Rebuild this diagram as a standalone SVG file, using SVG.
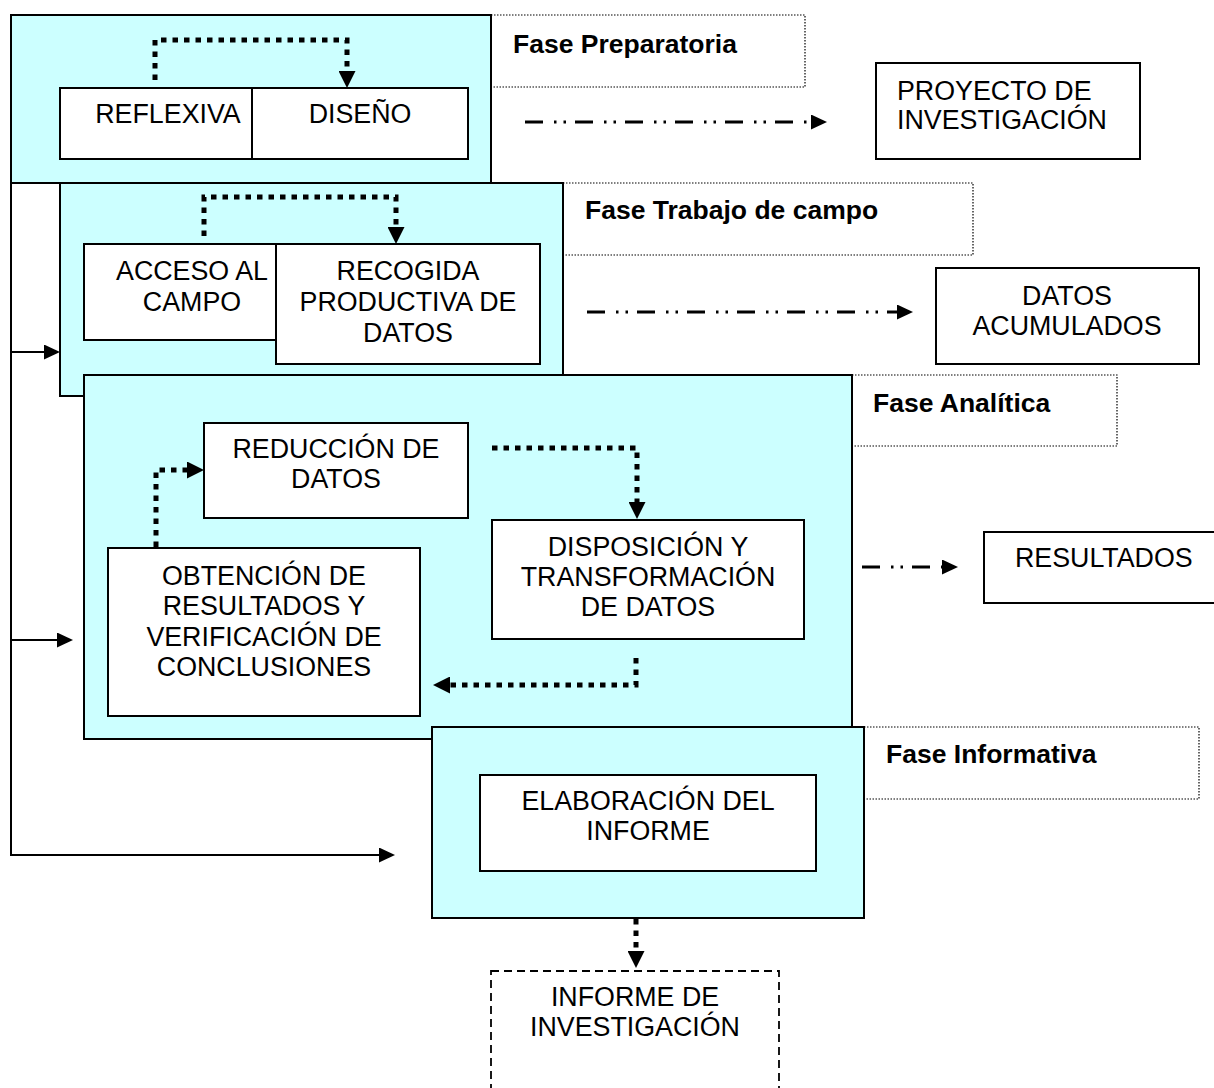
<svg xmlns="http://www.w3.org/2000/svg" width="1214" height="1088" viewBox="0 0 1214 1088">
<style>
.phase{fill:#CCFFFF;stroke:#000;stroke-width:2}
.box{fill:#fff;stroke:#000;stroke-width:2}
.lbl{fill:none;stroke:#000;stroke-width:1.2;stroke-dasharray:1.5 1.5}
.dashbox{fill:none;stroke:#000;stroke-width:1.8;stroke-dasharray:8 5}
.t{font-family:"Liberation Sans",Arial,sans-serif;font-size:26.8px;fill:#000;text-anchor:middle}
.ts{font-family:"Liberation Sans",Arial,sans-serif;font-size:26.8px;fill:#000}
.b{font-family:"Liberation Sans",Arial,sans-serif;font-size:26.5px;font-weight:bold;fill:#000}
.dot{fill:none;stroke:#000;stroke-width:5;stroke-dasharray:5.5 6}
.dd{fill:none;stroke:#000;stroke-width:3;stroke-dasharray:18 11 2.5 7 2.5 9}
.sol{fill:none;stroke:#000;stroke-width:2}
</style>
<defs>
<marker id="ah" markerUnits="userSpaceOnUse" markerWidth="17" markerHeight="17" viewBox="0 0 17 17" refX="0" refY="8.5" orient="auto"><path d="M0,0 L17,8.5 L0,17 z" fill="#000"/></marker>
<marker id="ahs" markerUnits="userSpaceOnUse" markerWidth="16" markerHeight="15" viewBox="0 0 16 15" refX="0" refY="7.5" orient="auto"><path d="M0,0 L16,7.5 L0,15 z" fill="#000"/></marker>
</defs>

<g id="fase-preparatoria">
<rect class="phase" x="11" y="15" width="480" height="168"/>
<rect class="lbl" x="491" y="15" width="314" height="72"/>
<text class="b" x="513" y="53">Fase Preparatoria</text>
</g>
<g id="fase-campo">
<rect class="phase" x="60" y="183" width="503" height="213"/>
<rect class="lbl" x="563" y="183" width="410" height="72"/>
<text class="b" x="585" y="219">Fase Trabajo de campo</text>
</g>
<g id="fase-analitica">
<rect class="phase" x="84" y="375" width="768" height="364"/>
<rect class="lbl" x="852" y="375" width="265" height="71"/>
<text class="b" x="873" y="412">Fase Analítica</text>
</g>
<g id="fase-informativa">
<rect class="phase" x="432" y="727" width="432" height="191"/>
<rect class="lbl" x="864" y="727" width="335" height="72"/>
<text class="b" x="886" y="763">Fase Informativa</text>
</g>

<g id="reflexiva">
<rect class="box" x="60" y="88" width="216" height="71"/>
<text class="t" x="168" y="123">REFLEXIVA</text>
</g>
<g id="diseno">
<rect class="box" x="252" y="88" width="216" height="71"/>
<text class="t" x="360" y="123">DISEÑO</text>
</g>
<g id="proyecto">
<rect class="box" x="876" y="63" width="264" height="96"/>
<text class="ts" x="897" y="100">PROYECTO DE</text>
<text class="ts" x="897" y="129">INVESTIGACIÓN</text>
</g>
<g id="acceso">
<rect class="box" x="84" y="244" width="216" height="96"/>
<text class="t" x="192" y="280">ACCESO AL</text>
<text class="t" x="192" y="311">CAMPO</text>
</g>
<g id="recogida">
<rect class="box" x="276" y="244" width="264" height="120"/>
<text class="t" x="408" y="280">RECOGIDA</text>
<text class="t" x="408" y="311">PRODUCTIVA DE</text>
<text class="t" x="408" y="342">DATOS</text>
</g>
<g id="datos-acumulados">
<rect class="box" x="936" y="268" width="263" height="96"/>
<text class="t" x="1067" y="305">DATOS</text>
<text class="t" x="1067" y="335">ACUMULADOS</text>
</g>
<g id="reduccion">
<rect class="box" x="204" y="423" width="264" height="95"/>
<text class="t" x="336" y="458">REDUCCIÓN DE</text>
<text class="t" x="336" y="488">DATOS</text>
</g>
<g id="disposicion">
<rect class="box" x="492" y="520" width="312" height="119"/>
<text class="t" x="648" y="556">DISPOSICIÓN Y</text>
<text class="t" x="648" y="586">TRANSFORMACIÓN</text>
<text class="t" x="648" y="616">DE DATOS</text>
</g>
<g id="obtencion">
<rect class="box" x="108" y="548" width="312" height="168"/>
<text class="t" x="264" y="585">OBTENCIÓN DE</text>
<text class="t" x="264" y="615">RESULTADOS Y</text>
<text class="t" x="264" y="646">VERIFICACIÓN DE</text>
<text class="t" x="264" y="676">CONCLUSIONES</text>
</g>
<g id="resultados">
<rect class="box" x="984" y="532" width="240" height="71"/>
<text class="ts" x="1015" y="567">RESULTADOS</text>
</g>
<g id="elaboracion">
<rect class="box" x="480" y="775" width="336" height="96"/>
<text class="t" x="648" y="810">ELABORACIÓN DEL</text>
<text class="t" x="648" y="840">INFORME</text>
</g>
<g id="informe-investigacion">
<rect class="dashbox" x="491" y="971" width="288" height="130"/>
<text class="t" x="635" y="1006">INFORME DE</text>
<text class="t" x="635" y="1036">INVESTIGACIÓN</text>
</g>

<g id="connectors">
<path class="dot" d="M155,80 V40 H347 V71" marker-end="url(#ah)"/>
<path class="dot" d="M204,236 V197 H396 V227" marker-end="url(#ah)"/>
<path class="dot" d="M156,547 V470 H187" marker-end="url(#ah)"/>
<path class="dot" d="M492,448 H637 V502" marker-end="url(#ah)"/>
<path class="dot" d="M636,658 V685 H450" marker-end="url(#ah)"/>
<path class="dot" d="M636,919 V951" marker-end="url(#ah)"/>
<path class="dd" d="M525,122 H811" marker-end="url(#ahs)"/>
<path class="dd" d="M587,312 H897" marker-end="url(#ahs)"/>
<path class="dd" d="M862,567 H942" marker-end="url(#ahs)"/>
<path class="sol" d="M11,183 V855 H379" marker-end="url(#ahs)"/>
<path class="sol" d="M11,352 H44" marker-end="url(#ahs)"/>
<path class="sol" d="M11,640 H57" marker-end="url(#ahs)"/>
</g>
</svg>
